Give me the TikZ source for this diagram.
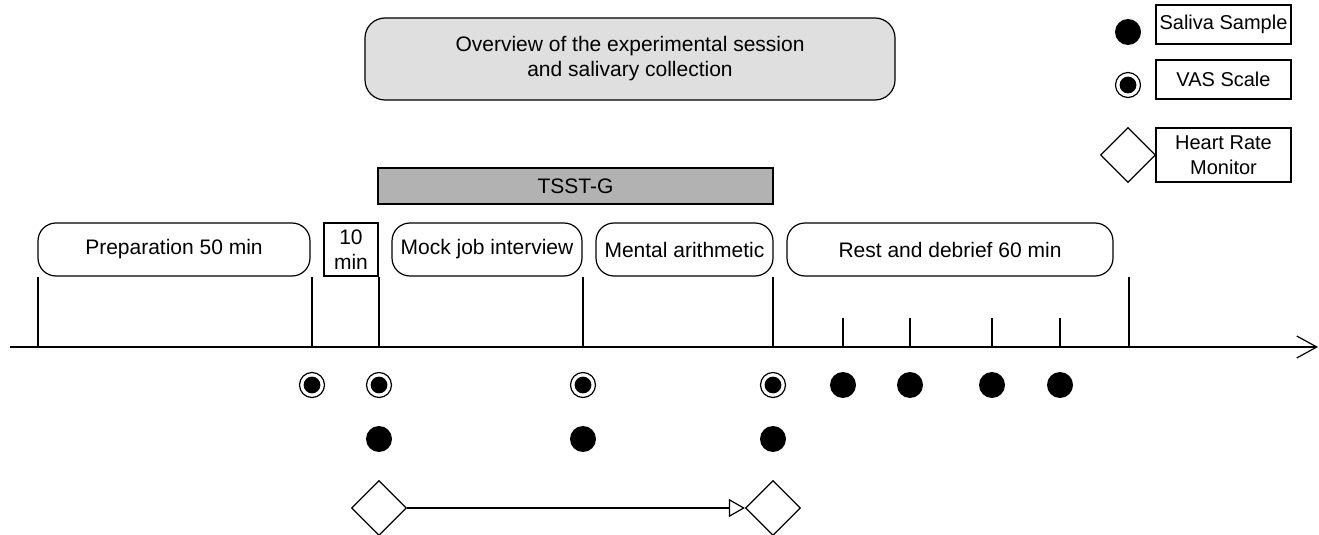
\documentclass[tikz,border=0pt]{standalone}
\usepackage{fontspec}
\setmainfont{Liberation Sans}
\usetikzlibrary{shapes.geometric,arrows.meta}

\begin{document}
\begin{tikzpicture}[x=0.5pt,y=-0.5pt,line width=0.6pt,
  every node/.style={font=\fontsize{10.5}{12.5}\selectfont,inner sep=0pt},
  phase/.style={draw,rounded corners=9pt,minimum height=26.5pt,align=center},
  legbox/.style={draw,minimum width=67.5pt,align=center,font=\fontsize{10}{12.5}\selectfont},
  saliva/.style={circle,fill=black,minimum size=13pt},
  vas/.style={circle,draw,minimum size=12.5pt,
    path picture={\fill (path picture bounding box.center) circle (4.2pt);}},
  hrm/.style={diamond,draw,aspect=1,minimum size=27.5pt},
  hrarrow/.style={-{Triangle[open,length=8pt,width=9pt]}}]
\useasboundingbox (0,0) rectangle (1319,535);

% title and TSST-G bar
\node[draw,rounded corners=10pt,fill=gray!25,minimum width=265pt,minimum height=41pt,align=center]
  (title) at (630,59) {Overview of the experimental session\\and salivary collection};
\node[draw,fill=gray!60,minimum width=197.5pt,minimum height=18pt] (tsst) at (575.5,186) {TSST-G};

% phases
\node[phase,minimum width=136pt] (prep) at (174,249.5) {Preparation 50 min};
\node[draw,minimum width=27pt,minimum height=26.5pt,align=center] (wait) at (351,249.5) {10\\min};
\node[phase,minimum width=95pt] (mock) at (487,249.5) {Mock job interview};
\node[phase,minimum width=88.5pt] (math) at (684.5,249.5) {Mental arithmetic};
\node[phase,minimum width=163pt] (rest) at (950,249.5) {Rest and debrief 60 min};

% time axis
\coordinate (start) at (10,347);
\coordinate (end) at (1318,347);
\draw[-{Straight Barb[length=10pt,width=11pt]}] (start) -- (end);
\foreach \x in {38,312,379,583,773,1129}
  \draw (\x,277) -- (\x,347);
\foreach \x in {843,910,992,1060}
  \draw (\x,318) -- (\x,347);

% VAS scales
\node[vas] (v1) at (312,385) {};
\node[vas] (v2) at (379,385) {};
\node[vas] (v3) at (583,385) {};
\node[vas] (v4) at (773,385) {};

% saliva samples
\node[saliva] (s1) at (379,439) {};
\node[saliva] (s2) at (583,439) {};
\node[saliva] (s3) at (773,439) {};
\node[saliva] (s4) at (843,385) {};
\node[saliva] (s5) at (910,385) {};
\node[saliva] (s6) at (992,385) {};
\node[saliva] (s7) at (1060,385) {};

% heart rate monitor
\node[hrm] (h1) at (379,508) {};
\node[hrm] (h2) at (773,508) {};
\draw[hrarrow] (h1.east) -- (h2.west);

% legend
\node[saliva] (legs) at (1128,32) {};
\node[legbox,minimum height=19.5pt] (legsbox) at (1223.5,24.5) {Saliva Sample};
\node[vas] (legv) at (1128,85) {};
\node[legbox,minimum height=19.5pt] (legvbox) at (1223.5,79.5) {VAS Scale};
\node[hrm] (legh) at (1128,155) {};
\node[legbox,minimum height=27pt] (leghbox) at (1223.5,155) {Heart Rate\\Monitor};
\end{tikzpicture}
\end{document}
